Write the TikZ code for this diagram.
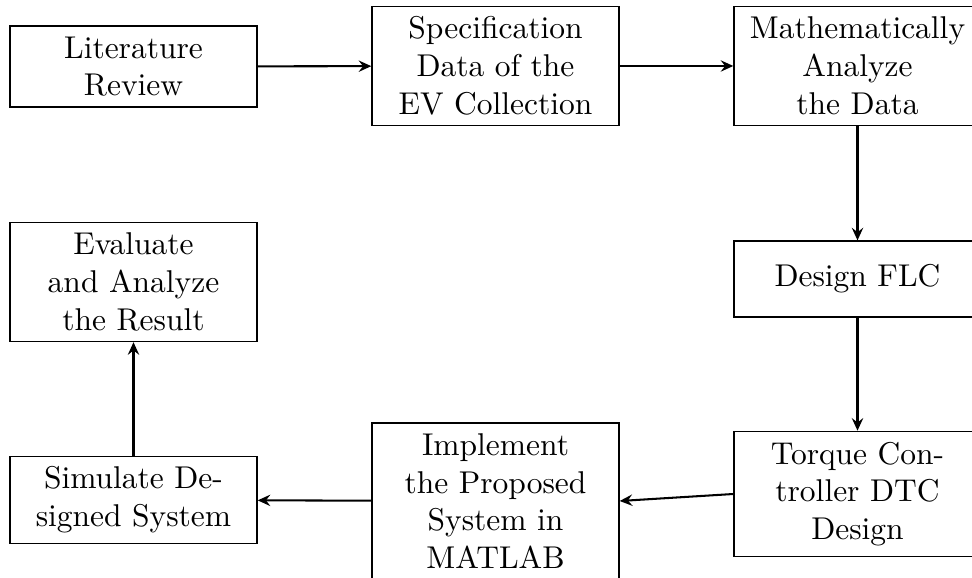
\documentclass[tikz,border=0pt]{standalone}
\usetikzlibrary{arrows.meta}
\begin{document}
\begin{tikzpicture}[x=0.3175pt,y=-0.3175pt,
  box/.style={draw, line width=0.4pt, text width=71.8pt, align=center, inner sep=0.3333em},
  arr/.style={-{Stealth[length=4pt,width=3.6pt,inset=1.4pt]}, line width=0.65pt}]
\useasboundingbox (0,0) rectangle (972,578);
\clip (0,0) rectangle (972,578);
\node[box] (lit) at (133.5,66.5) {Literature\\Review};
\node[box] (spec) at (495.5,66) {Specification\\Data of the\\EV Collection};
\node[box] (math) at (857.5,66) {Mathematically\\Analyze\\the Data};
\node[box, minimum height=24.1pt] (flc) at (857.5,279) {Design FLC};
\node[box] (torque) at (857.5,494) {Torque Con-\\troller DTC\\Design};
\node[box] (impl) at (495.5,501) {Implement\\the Proposed\\System in\\MATLAB};
\node[box] (sim) at (133.5,500) {Simulate De-\\signed System};
\node[box] (eval) at (133.5,282) {Evaluate\\and Analyze\\the Result};
\draw[arr] (lit) -- (spec);
\draw[arr] (spec) -- (math);
\draw[arr] (math) -- (flc);
\draw[arr] (flc) -- (torque);
\draw[arr] (torque.west) -- (impl.east);
\draw[arr] (impl) -- (sim);
\draw[arr] (sim) -- (eval);
\end{tikzpicture}
\end{document}
